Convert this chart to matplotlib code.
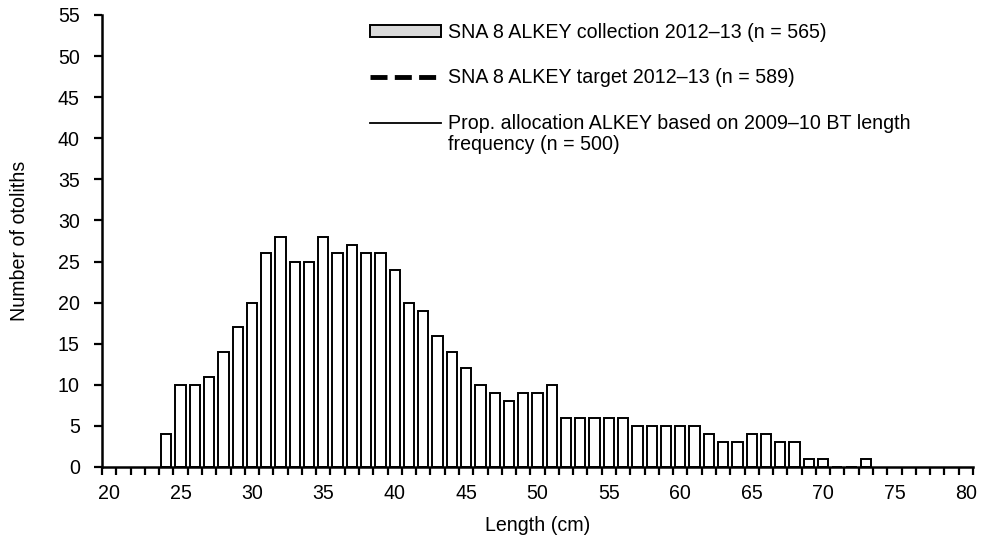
import numpy as np
import matplotlib.pyplot as plt
from matplotlib.lines import Line2D
from matplotlib.patches import Patch

plt.rcParams['font.family'] = ['Liberation Sans', 'DejaVu Sans']

lengths = list(range(24, 74))
counts = [4, 10, 10, 11, 14, 17, 20, 26, 28, 25,
          25, 28, 26, 27, 26, 26, 24, 20, 19, 16,
          14, 12, 10, 9, 8, 9, 9, 10, 6, 6,
          6, 6, 6, 5, 5, 5, 5, 5, 4, 3,
          3, 4, 4, 3, 3, 1, 1, 0, 0, 1]
x_labels = list(range(20, 81, 5))

label_coll = 'SNA 8 ALKEY collection 2012\u201313 (n = 565)'
label_target = 'SNA 8 ALKEY target 2012\u201313 (n = 589)'
label_prop = 'Prop. allocation ALKEY based on 2009\u201310 BT length\nfrequency (n = 500)'

fs = 14.1

fig = plt.figure(figsize=(9.81, 5.44), dpi=100)
ax = fig.add_axes([102 / 981, (544 - 467) / 544, (973 - 102) / 981, (467 - 15) / 544])

ax.bar(lengths, counts, width=0.72, color='white', edgecolor='black', linewidth=1.4)

ax.set_xlim(19.5, 80.5)
ax.set_ylim(0, 55)
ax.set_yticks(np.arange(0, 56, 5))
ax.set_xticks(x_labels)
ax.set_xticks(np.arange(19.5, 81, 1), minor=True)
ax.tick_params(axis='x', which='major', length=0, labelsize=fs, pad=12.5)
ax.tick_params(axis='x', which='minor', length=6, width=1.6, direction='out')
ax.tick_params(axis='y', length=6, width=1.6, direction='out', labelsize=fs, pad=10)

for s in ['top', 'right']:
    ax.spines[s].set_visible(False)
for s in ['left', 'bottom']:
    ax.spines[s].set_linewidth(1.8)

ax.set_xlabel('Length (cm)', fontsize=fs, labelpad=9)
ax.set_ylabel('Number of otoliths', fontsize=fs, labelpad=21)

handles = [Patch(facecolor='#d9d9d9', edgecolor='black', linewidth=1.4),
           Line2D([], [], color='black', linewidth=3.5, linestyle=(0, (3.5, 1.5))),
           Line2D([], [], color='black', linewidth=1.3)]
leg = ax.legend(handles, [label_coll, label_target, label_prop],
                loc='upper left', bbox_to_anchor=(0.297, 1.004), frameon=False,
                borderpad=0, fontsize=fs, handlelength=3.6, handleheight=0.55,
                handletextpad=0.35, labelspacing=1.35)
for t in leg.get_texts():
    t.set_linespacing(1.15)

# line handle sits beside the first line of its two-line label
h3 = leg.legend_handles[2]
h3.set_ydata(np.asarray(h3.get_ydata()) + 9)

fig.savefig('out.png', dpi=100)
